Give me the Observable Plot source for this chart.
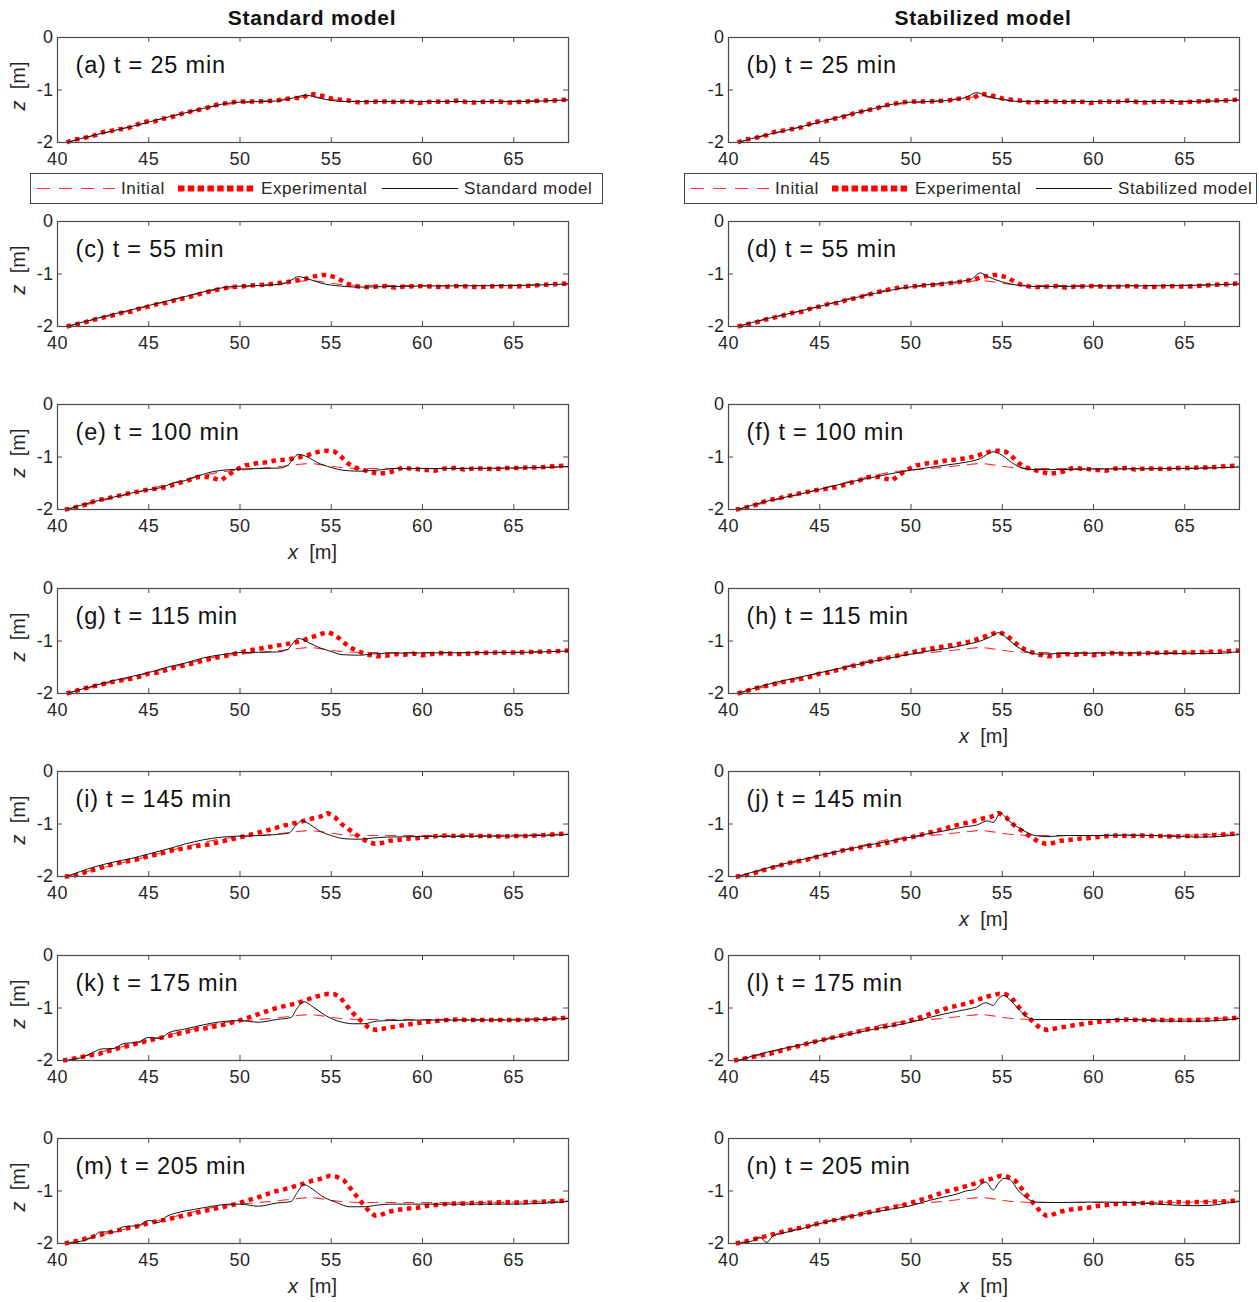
<!DOCTYPE html>
<html>
<head>
<meta charset="utf-8">
<script src="https://cdn.jsdelivr.net/npm/d3@7"></script>
<script src="https://cdn.jsdelivr.net/npm/@observablehq/plot@0.6"></script>
<style>
  body { margin: 0; background: #fff; }
  #fig { position: relative; width: 1259px; height: 1302px; font-family: "Liberation Sans", Arial, Helvetica, sans-serif; color: #262626; overflow: hidden; }
  .abs { position: absolute; white-space: nowrap; }
  .panel { position: absolute; }
  .panel text { letter-spacing: 0.4px; }
  .panel g.plabel text, .panel .plabel { letter-spacing: 0.8px; }
  .title { font-weight: bold; font-size: 21px; letter-spacing: 0.7px; color: #111; transform: translateX(-50%); }
  .xlab { font-size: 20px; transform: translateX(-50%); color: #262626; }
  .ylab { font-size: 20px; transform: translate(-50%, -50%) rotate(-90deg); color: #262626; }
  .legend { border: 1.3px solid #444; background: #fff; box-sizing: border-box; }
  .legend text { font-size: 17px; letter-spacing: 0.6px; fill: #262626; }
</style>
</head>
<body>
<div id="fig"></div>
<script>
// ---------------- data ----------------
const xTicks = [40, 45, 50, 55, 60, 65];
const zTicks = [-2, -1, 0];
const columnTitles = ["Standard model", "Stabilized model"];
const legendLabels = ["Initial", "Experimental"];

const initialProfile = [[40.5,-2],[42,-1.87],[44,-1.7],[46,-1.52],[48,-1.35],[49,-1.28],[50,-1.25],[51,-1.22],[52,-1.19],[53,-1.15],[53.8,-1.12],[54.5,-1.15],[55.5,-1.2],[56.5,-1.22],[60,-1.22],[64,-1.22],[68,-1.19]];

const exp25 = [[40.5,-2.0],[40.9,-1.94],[41.3,-1.93],[41.7,-1.89],[42.1,-1.86],[42.5,-1.8],[42.9,-1.78],[43.3,-1.75],[43.7,-1.74],[44.1,-1.7],[44.5,-1.64],[44.9,-1.6],[45.3,-1.6],[45.7,-1.55],[46.1,-1.53],[46.5,-1.49],[46.9,-1.44],[47.3,-1.41],[47.7,-1.38],[48.1,-1.35],[48.5,-1.3],[48.9,-1.27],[49.3,-1.25],[49.7,-1.23],[50.1,-1.22],[50.5,-1.22],[51,-1.22],[51.5,-1.21],[52,-1.2],[52.5,-1.17],[53,-1.15],[53.4,-1.16],[53.8,-1.07],[54.2,-1.09],[54.6,-1.12],[55,-1.16],[55.4,-1.18],[55.8,-1.19],[56.2,-1.22],[56.6,-1.24],[57,-1.23],[57.5,-1.22],[58,-1.22],[58.5,-1.23],[59,-1.22],[59.5,-1.23],[59.8,-1.25],[60.2,-1.23],[60.7,-1.22],[61.2,-1.23],[61.7,-1.21],[62,-1.2],[62.4,-1.23],[62.8,-1.24],[63.2,-1.23],[63.7,-1.22],[64.2,-1.22],[64.7,-1.24],[65.2,-1.23],[65.7,-1.22],[66.2,-1.21],[66.7,-1.2],[67.2,-1.2],[67.6,-1.19],[68,-1.18]];

const exp55 = [[40.5,-2],[41,-1.96],[41.5,-1.92],[42,-1.87],[42.5,-1.83],[43,-1.79],[43.5,-1.74],[44,-1.72],[44.5,-1.66],[45,-1.62],[45.5,-1.57],[46,-1.55],[46.5,-1.49],[47,-1.46],[47.5,-1.41],[48,-1.36],[48.5,-1.32],[49,-1.28],[49.5,-1.25],[50,-1.24],[50.5,-1.22],[51,-1.21],[51.5,-1.2],[52,-1.18],[52.5,-1.16],[53,-1.13],[53.5,-1.1],[54,-1.05],[54.5,-1.02],[54.8,-1.02],[55.2,-1.06],[55.6,-1.13],[56,-1.2],[56.5,-1.24],[57,-1.25],[57.5,-1.24],[58,-1.23],[58.5,-1.26],[59,-1.24],[60,-1.23],[61,-1.25],[62,-1.23],[63,-1.25],[64,-1.23],[65,-1.24],[66,-1.22],[67,-1.2],[68,-1.18]];

const exp100 = [[40.4,-2.0],[40.8,-1.98],[41.2,-1.94],[41.6,-1.9],[42.1,-1.83],[42.7,-1.79],[43.2,-1.75],[43.8,-1.7],[44.4,-1.66],[45,-1.62],[45.5,-1.6],[46,-1.57],[46.6,-1.5],[47.2,-1.44],[47.7,-1.38],[48.2,-1.38],[48.7,-1.42],[49,-1.44],[49.4,-1.33],[49.8,-1.24],[50.3,-1.16],[50.9,-1.12],[51.5,-1.1],[52,-1.06],[52.5,-1.05],[53.1,-1.02],[53.6,-0.98],[54,-0.93],[54.4,-0.89],[54.8,-0.88],[55.2,-0.9],[55.5,-0.98],[55.9,-1.12],[56.3,-1.2],[56.8,-1.25],[57.2,-1.29],[57.6,-1.32],[58.1,-1.3],[58.5,-1.26],[58.9,-1.2],[59.3,-1.22],[59.7,-1.23],[60.2,-1.25],[60.7,-1.26],[61.2,-1.22],[61.8,-1.21],[62.3,-1.24],[62.8,-1.22],[63.4,-1.22],[64,-1.23],[64.6,-1.21],[65.2,-1.21],[65.8,-1.2],[66.4,-1.2],[67,-1.18],[67.5,-1.17],[68,-1.16]];

const exp115 = [[40.5,-2],[41,-1.95],[41.5,-1.9],[42,-1.86],[42.5,-1.82],[43,-1.78],[43.5,-1.75],[44,-1.72],[44.5,-1.68],[45,-1.62],[45.5,-1.6],[46,-1.55],[46.5,-1.5],[47,-1.46],[47.5,-1.42],[48,-1.37],[48.5,-1.33],[49,-1.3],[49.5,-1.26],[50,-1.22],[50.5,-1.18],[51,-1.15],[51.5,-1.12],[52,-1.09],[52.5,-1.06],[53,-1.03],[53.5,-0.98],[54,-0.92],[54.5,-0.86],[54.8,-0.83],[55.2,-0.88],[55.6,-1.0],[56,-1.12],[56.5,-1.2],[57,-1.26],[57.5,-1.29],[58,-1.28],[58.5,-1.25],[59,-1.26],[59.5,-1.24],[60,-1.27],[61,-1.23],[62,-1.25],[63,-1.23],[64,-1.22],[65,-1.22],[66,-1.21],[67,-1.2],[68,-1.18]];

const exp145 = [[40.4,-2.0],[40.8,-1.99],[41.2,-1.96],[41.7,-1.9],[42.2,-1.85],[42.7,-1.8],[43.2,-1.75],[43.8,-1.71],[44.3,-1.68],[44.8,-1.63],[45.3,-1.59],[45.8,-1.55],[46.3,-1.5],[46.8,-1.47],[47.3,-1.44],[47.8,-1.41],[48.3,-1.39],[48.8,-1.35],[49.3,-1.31],[49.8,-1.27],[50.3,-1.23],[50.8,-1.18],[51.4,-1.13],[51.9,-1.08],[52.4,-1.03],[52.9,-0.99],[53.4,-0.95],[53.9,-0.9],[54.4,-0.86],[54.8,-0.79],[55.2,-0.87],[55.6,-1.01],[56.2,-1.16],[56.6,-1.26],[57,-1.34],[57.4,-1.38],[57.8,-1.36],[58.2,-1.32],[58.7,-1.3],[59.2,-1.28],[59.7,-1.27],[60.2,-1.25],[60.8,-1.23],[61.4,-1.22],[62,-1.23],[62.6,-1.22],[63.2,-1.23],[63.8,-1.23],[64.4,-1.24],[65,-1.23],[65.6,-1.23],[66.2,-1.22],[66.8,-1.21],[67.4,-1.19],[68,-1.18]];

const exp175 = [[40.3,-2.0],[40.8,-1.97],[41.2,-1.94],[41.8,-1.9],[42.3,-1.87],[42.8,-1.82],[43.4,-1.76],[43.9,-1.72],[44.4,-1.67],[45,-1.62],[45.5,-1.58],[46,-1.54],[46.6,-1.49],[47.1,-1.45],[47.7,-1.4],[48.2,-1.38],[48.8,-1.34],[49.3,-1.3],[49.8,-1.26],[50.3,-1.2],[50.9,-1.13],[51.4,-1.07],[52,-1.0],[52.5,-0.96],[53.1,-0.91],[53.6,-0.85],[54.2,-0.78],[54.8,-0.73],[55.2,-0.74],[55.5,-0.8],[55.9,-0.98],[56.2,-1.1],[56.5,-1.2],[56.8,-1.3],[57.1,-1.39],[57.5,-1.42],[57.9,-1.39],[58.4,-1.36],[58.9,-1.33],[59.5,-1.3],[60.1,-1.27],[60.7,-1.25],[61.3,-1.23],[61.9,-1.22],[62.5,-1.23],[63.1,-1.23],[63.7,-1.23],[64.3,-1.23],[65,-1.23],[65.6,-1.23],[66.2,-1.22],[66.8,-1.21],[67.4,-1.2],[68,-1.18]];

const exp205 = [[40.4,-2.0],[40.8,-1.97],[41.2,-1.94],[41.7,-1.89],[42.2,-1.85],[42.7,-1.8],[43.3,-1.75],[43.8,-1.71],[44.4,-1.67],[44.9,-1.62],[45.4,-1.58],[45.9,-1.55],[46.4,-1.51],[46.9,-1.47],[47.4,-1.43],[47.9,-1.39],[48.4,-1.35],[48.9,-1.32],[49.4,-1.28],[49.9,-1.24],[50.4,-1.18],[50.9,-1.13],[51.4,-1.07],[51.9,-1.01],[52.4,-0.97],[52.9,-0.92],[53.4,-0.87],[53.9,-0.81],[54.4,-0.77],[54.9,-0.71],[55.3,-0.73],[55.7,-0.8],[56.1,-0.97],[56.5,-1.15],[56.8,-1.27],[57.1,-1.4],[57.4,-1.47],[57.7,-1.46],[58.1,-1.4],[58.6,-1.36],[59.1,-1.34],[59.7,-1.32],[60.3,-1.28],[60.9,-1.26],[61.5,-1.24],[62.1,-1.24],[62.7,-1.23],[63.3,-1.23],[63.9,-1.22],[64.5,-1.21],[65.1,-1.22],[65.7,-1.21],[66.3,-1.21],[66.9,-1.2],[67.5,-1.19],[68,-1.18]];

const modelA = [[40.5,-2],[42,-1.86],[44,-1.7],[46,-1.52],[48,-1.35],[49,-1.27],[50,-1.23],[51,-1.22],[52,-1.21],[52.8,-1.16],[53.6,-1.1],[54.3,-1.15],[55,-1.2],[55.8,-1.22],[58,-1.22],[62,-1.22],[65,-1.22],[68,-1.19]];
const modelB = [[40.5,-2],[42,-1.86],[44,-1.7],[46,-1.52],[48,-1.35],[49,-1.27],[50,-1.23],[51,-1.22],[52,-1.2],[53,-1.14],[53.6,-1.05],[54.1,-1.11],[55,-1.18],[56,-1.22],[58,-1.22],[62,-1.22],[65,-1.22],[68,-1.19]];
const modelC = [[40.5,-2],[43,-1.77],[45,-1.6],[47,-1.43],[48.5,-1.3],[49.5,-1.24],[51,-1.22],[52.3,-1.19],[52.8,-1.12],[53.2,-1.05],[53.7,-1.09],[54.5,-1.18],[55.5,-1.23],[56.5,-1.25],[58,-1.24],[60,-1.23],[65,-1.22],[68,-1.19]];
const modelD = [[40.5,-2],[42,-1.86],[44,-1.7],[46,-1.53],[48,-1.37],[49.5,-1.27],[51,-1.2],[52.5,-1.15],[53.3,-1.1],[53.8,-0.98],[54.2,-1.05],[55,-1.15],[56,-1.22],[57,-1.24],[60,-1.23],[65,-1.22],[68,-1.19]];
const modelE = [[40.5,-2],[42,-1.85],[43,-1.77],[45,-1.62],[45.7,-1.58],[46.3,-1.5],[47,-1.45],[47.5,-1.38],[48,-1.33],[48.5,-1.28],[50,-1.23],[52.2,-1.21],[52.6,-1.16],[53.2,-0.95],[53.7,-1.0],[54.2,-1.1],[55,-1.2],[55.6,-1.25],[56.5,-1.27],[57.5,-1.25],[58.5,-1.22],[60,-1.22],[65,-1.21],[68,-1.18]];
const modelF = [[40.5,-2],[42,-1.85],[44,-1.7],[46,-1.53],[48,-1.38],[50,-1.25],[51,-1.2],[52,-1.15],[53,-1.1],[53.8,-1.03],[54.5,-0.9],[55,-0.97],[55.5,-1.1],[56,-1.2],[56.8,-1.24],[58,-1.24],[60,-1.23],[65,-1.22],[68,-1.19]];
const modelG = [[40.5,-2],[43,-1.76],[45,-1.6],[46,-1.5],[47,-1.42],[48,-1.32],[49,-1.26],[50,-1.22],[52,-1.21],[52.6,-1.16],[53.2,-0.95],[53.7,-1.02],[54.3,-1.12],[55,-1.2],[55.6,-1.26],[56.5,-1.27],[57.5,-1.24],[58.5,-1.23],[65,-1.22],[68,-1.19]];
const modelH = [[40.5,-2],[42,-1.84],[44,-1.68],[46,-1.53],[48,-1.38],[50,-1.25],[51,-1.19],[52,-1.14],[53,-1.07],[53.8,-1.0],[54.3,-0.93],[54.8,-0.84],[55.2,-0.93],[55.7,-1.08],[56.3,-1.2],[57,-1.25],[58,-1.24],[60,-1.23],[62,-1.23],[65,-1.24],[66.5,-1.24],[68,-1.2]];
const modelI = [[40.5,-2],[42,-1.82],[43,-1.73],[44,-1.66],[45,-1.57],[46,-1.48],[47,-1.38],[48,-1.3],[49,-1.25],[50,-1.23],[51,-1.22],[52,-1.2],[52.7,-1.17],[53,-1.05],[53.4,-0.94],[53.8,-1.0],[54.3,-1.12],[55,-1.22],[55.7,-1.28],[56.5,-1.29],[57.2,-1.27],[58,-1.25],[60,-1.24],[65,-1.23],[68,-1.2]];
const modelJ = [[40.5,-2],[42,-1.85],[44,-1.68],[46,-1.52],[48,-1.38],[50,-1.25],[51,-1.18],[52,-1.12],[53,-1.05],[53.6,-1.02],[54.2,-0.94],[54.5,-0.97],[54.9,-0.79],[55.3,-0.92],[55.8,-1.05],[56.3,-1.15],[56.8,-1.22],[57.5,-1.24],[58.5,-1.22],[60,-1.22],[62,-1.21],[64,-1.23],[66,-1.25],[68,-1.2]];
const modelK = [[40.5,-2],[41.5,-1.92],[42.1,-1.82],[42.4,-1.78],[43.1,-1.77],[43.6,-1.68],[44.4,-1.65],[45,-1.56],[45.6,-1.58],[46.1,-1.47],[47,-1.4],[48,-1.32],[49,-1.26],[50,-1.24],[51,-1.27],[52,-1.22],[52.8,-1.18],[53.1,-1.02],[53.5,-0.88],[54,-0.98],[54.5,-1.1],[55,-1.2],[55.6,-1.27],[56.2,-1.3],[56.8,-1.3],[57.5,-1.25],[58.2,-1.24],[60,-1.23],[65,-1.23],[68,-1.2]];
const modelL = [[40.5,-2],[42,-1.85],[44,-1.7],[46,-1.55],[48,-1.4],[50,-1.27],[51,-1.18],[52,-1.1],[53,-1.03],[53.6,-0.98],[54.1,-0.9],[54.5,-0.95],[54.8,-0.82],[55.1,-0.76],[55.4,-0.84],[55.9,-1.02],[56.4,-1.18],[56.9,-1.22],[58,-1.22],[60,-1.22],[62,-1.22],[64,-1.25],[66,-1.25],[68,-1.2]];
const modelM = [[40.5,-2],[42,-1.87],[42.3,-1.78],[43.2,-1.78],[43.6,-1.68],[44.4,-1.66],[45,-1.56],[45.5,-1.6],[46,-1.48],[46.5,-1.42],[47.5,-1.35],[48.5,-1.29],[49.5,-1.25],[50,-1.25],[51,-1.29],[52,-1.23],[52.8,-1.2],[53.1,-1.05],[53.5,-0.88],[54,-0.97],[54.5,-1.1],[55.3,-1.22],[56,-1.3],[56.8,-1.3],[57.5,-1.27],[58.2,-1.25],[60,-1.25],[65,-1.25],[68,-1.2]];
const modelN = [[40.5,-2],[41.3,-1.95],[41.7,-1.88],[42.1,-1.98],[42.4,-1.87],[43,-1.8],[44,-1.72],[45,-1.62],[46,-1.54],[47,-1.46],[48,-1.4],[49,-1.34],[50,-1.28],[51,-1.18],[52,-1.1],[52.5,-1.06],[53,-1.0],[53.5,-0.97],[53.9,-0.86],[54.1,-0.83],[54.5,-0.98],[54.8,-0.85],[55.1,-0.76],[55.4,-0.78],[55.9,-1.0],[56.4,-1.15],[56.8,-1.21],[58,-1.22],[60,-1.21],[62,-1.22],[64,-1.26],[65.5,-1.28],[66.5,-1.27],[67.5,-1.22],[68,-1.2]];

const panelLabels = ["(a) t = 25 min","(b) t = 25 min","(c) t = 55 min","(d) t = 55 min","(e) t = 100 min","(f) t = 100 min","(g) t = 115 min","(h) t = 115 min","(i) t = 145 min","(j) t = 145 min","(k) t = 175 min","(l) t = 175 min","(m) t = 205 min","(n) t = 205 min"];
const expByRow = [exp25, exp55, exp100, exp115, exp145, exp175, exp205];
const models = [modelA, modelB, modelC, modelD, modelE, modelF, modelG, modelH, modelI, modelJ, modelK, modelL, modelM, modelN];

// ---------------- layout ----------------
const fig = document.getElementById("fig");
const rowTops = [37, 221, 404, 588, 771, 955, 1138];
const colLeft = [0, 671];
const ML = 57, PW = 511, PH = 105, MT = 8, MB = 32, W = 580;
const H = MT + PH + MB;
const FONT = '"Liberation Sans", Arial, Helvetica, sans-serif';
const axisColor = "#4a4a4a";
const xLabelPanels = new Set([4, 12, 7, 9, 13]);

function addDiv(cls, html, left, top) {
  const d = document.createElement("div");
  d.className = "abs " + cls;
  d.innerHTML = html;
  d.style.left = left + "px";
  d.style.top = top + "px";
  fig.appendChild(d);
  return d;
}

for (let i = 0; i < 14; i++) {
  const row = Math.floor(i / 2), col = i % 2;
  const chart = Plot.plot({
    width: W, height: H,
    marginLeft: ML, marginRight: W - ML - PW, marginTop: MT, marginBottom: MB,
    x: { domain: [40, 68] },
    y: { domain: [-2, 0] },
    style: { fontFamily: FONT, fontSize: "18px", color: "#262626", background: "transparent", overflow: "visible" },
    marks: [
      Plot.line(initialProfile, { x: d => d[0], y: d => d[1], stroke: "#ff2a2a", strokeWidth: 1.1, strokeDasharray: "11,7", strokeLinecap: "butt" }),
      Plot.line(expByRow[row], { x: d => d[0], y: d => d[1], stroke: "#ff0000", strokeWidth: 4.5, strokeDasharray: "4.5,4.5", strokeLinecap: "butt", strokeLinejoin: "miter" }),
      Plot.line(models[i], { x: d => d[0], y: d => d[1], stroke: "#111", strokeWidth: 1, curve: "monotone-x" }),
      Plot.frame({ stroke: axisColor, strokeWidth: 1.2 }),
      Plot.tickX(xTicks, { x: d => d, insetTop: PH - 5, stroke: axisColor }),
      Plot.tickX(xTicks, { x: d => d, insetBottom: PH - 5, stroke: axisColor }),
      Plot.tickY(zTicks, { y: d => d, insetRight: PW - 5, stroke: axisColor }),
      Plot.tickY(zTicks, { y: d => d, insetLeft: PW - 5, stroke: axisColor }),
      Plot.axisX({ ticks: xTicks, tickSize: 0, tickPadding: 10, tickFormat: d => String(d), label: null, fontSize: 18 }),
      Plot.axisY({ ticks: zTicks, tickSize: 0, tickPadding: 4, tickFormat: d => String(d), label: null, fontSize: 18 }),
      Plot.text([panelLabels[i]], { text: d => d, frameAnchor: "top-left", dx: 18, dy: 28, textAnchor: "start", lineAnchor: "middle", fontSize: 23.5, fill: "#111", className: "plabel" })
    ]
  });
  const wrap = document.createElement("div");
  wrap.className = "panel";
  wrap.style.left = colLeft[col] + "px";
  wrap.style.top = (rowTops[row] - MT) + "px";
  wrap.appendChild(chart);
  fig.appendChild(wrap);

  if (col === 0) {
    addDiv("ylab", "<i>z</i>&nbsp;&nbsp;[m]", 18, rowTops[row] + PH / 2 - 4);
  }
  if (xLabelPanels.has(i)) {
    addDiv("xlab", "<i>x</i>&nbsp;&nbsp;[m]", colLeft[col] + ML + PW / 2, rowTops[row] + PH + 32);
  }
}

// column titles
addDiv("title", columnTitles[0], 312, 6);
addDiv("title", columnTitles[1], 983, 6);

// legends
function legend(left, modelName) {
  const box = addDiv("legend", "", left, 173);
  box.style.width = "573px";
  box.style.height = "31px";
  const ns = "http://www.w3.org/2000/svg";
  const svg = document.createElementNS(ns, "svg");
  svg.setAttribute("width", 573); svg.setAttribute("height", 31);
  svg.style.position = "absolute"; svg.style.left = "-1px"; svg.style.top = "-1px";
  const yMid = 15.5;
  const items = [
    { x1: 7, x2: 85, stroke: "#ff2a2a", w: 1.2, dash: "13,9", label: legendLabels[0], tx: 91 },
    { x1: 148, x2: 226, stroke: "#ff0000", w: 6, dash: "6.5,3.3", label: legendLabels[1], tx: 231 },
    { x1: 352, x2: 428, stroke: "#111", w: 1.2, dash: null, label: modelName, tx: 434 }
  ];
  for (const it of items) {
    const l = document.createElementNS(ns, "line");
    l.setAttribute("x1", it.x1); l.setAttribute("x2", it.x2);
    l.setAttribute("y1", yMid); l.setAttribute("y2", yMid);
    l.setAttribute("stroke", it.stroke); l.setAttribute("stroke-width", it.w);
    if (it.dash) l.setAttribute("stroke-dasharray", it.dash);
    svg.appendChild(l);
    const t = document.createElementNS(ns, "text");
    t.setAttribute("x", it.tx); t.setAttribute("y", yMid);
    t.setAttribute("dominant-baseline", "central");
    t.setAttribute("font-family", FONT);
    t.textContent = it.label;
    svg.appendChild(t);
  }
  box.appendChild(svg);
}
legend(30, columnTitles[0]);
legend(684, columnTitles[1]);
</script>
</body>
</html>
